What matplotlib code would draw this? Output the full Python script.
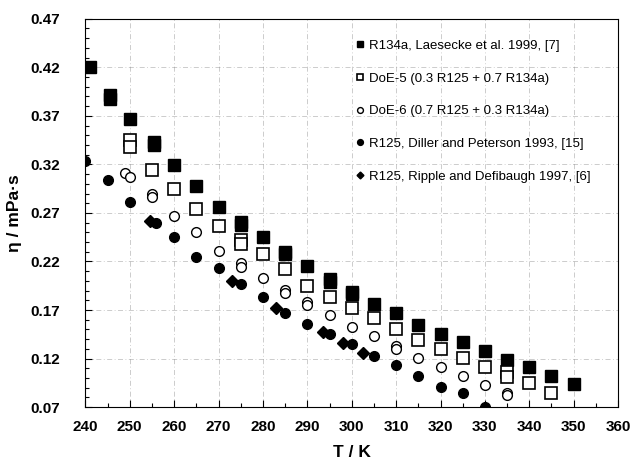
import numpy as np
import matplotlib
matplotlib.use('Agg')
import matplotlib.pyplot as plt
from matplotlib.ticker import MultipleLocator, FixedLocator, FormatStrFormatter

plt.rcParams['font.family'] = ['Liberation Sans', 'DejaVu Sans']

# R134a, Laesecke et al. 1999
t_r134a = [241, 245.5, 245.5, 250, 255.5, 255.5, 260, 265, 270, 275, 275, 280, 285, 285,
           290, 295, 295, 300, 300, 305, 310, 315, 320, 325, 330, 335, 340, 345, 350]
eta_r134a = [0.420, 0.391, 0.387, 0.367, 0.343, 0.340, 0.319, 0.298, 0.276, 0.261, 0.258,
             0.245, 0.230, 0.228, 0.215, 0.202, 0.199, 0.189, 0.186, 0.176, 0.167, 0.155,
             0.145, 0.137, 0.128, 0.119, 0.111, 0.102, 0.094]

# DoE-5 (0.3 R125 + 0.7 R134a)
t_doe5 = [250, 250, 255, 260, 265, 270, 275, 275, 280, 285, 290, 295, 300, 305, 310,
          315, 320, 325, 330, 335, 335, 340, 345]
eta_doe5 = [0.345, 0.338, 0.314, 0.295, 0.274, 0.257, 0.242, 0.238, 0.228, 0.212, 0.195,
            0.183, 0.172, 0.162, 0.150, 0.139, 0.130, 0.121, 0.111, 0.106, 0.101, 0.095, 0.085]

# DoE-6 (0.7 R125 + 0.3 R134a)
t_doe6 = [249, 250, 255, 255, 260, 265, 270, 275, 275, 280, 285, 285, 290, 290, 295, 300,
          305, 310, 310, 315, 320, 325, 330, 335, 335]
eta_doe6 = [0.311, 0.307, 0.290, 0.286, 0.267, 0.250, 0.231, 0.218, 0.214, 0.203, 0.191,
            0.188, 0.178, 0.175, 0.165, 0.153, 0.143, 0.133, 0.130, 0.121, 0.111, 0.102,
            0.093, 0.085, 0.082]

# R125, Diller and Peterson 1993
t_diller = [240, 245, 250, 256, 260, 265, 270, 275, 280, 285, 290, 295, 300, 305, 310,
            315, 320, 325, 330]
eta_diller = [0.324, 0.304, 0.281, 0.260, 0.245, 0.225, 0.213, 0.197, 0.183, 0.167, 0.156,
              0.145, 0.135, 0.123, 0.113, 0.102, 0.091, 0.085, 0.070]

# R125, Ripple and Defibaugh 1997
t_ripple = [254.5, 273, 283, 293.5, 298, 302.5]
eta_ripple = [0.262, 0.200, 0.172, 0.147, 0.136, 0.126]

fig = plt.figure(figsize=(6.32, 4.69), dpi=100)
ax = fig.add_axes([0.135, 0.132, 0.843, 0.828])

ax.plot(t_r134a, eta_r134a, 's', color='black', ms=8, ls='none',
        label='R134a, Laesecke et al. 1999, [7]')
ax.plot(t_doe5, eta_doe5, 's', mfc='white', mec='black', mew=1.2, ms=8, ls='none',
        label='DoE-5 (0.3 R125 + 0.7 R134a)')
ax.plot(t_doe6, eta_doe6, 'o', mfc='white', mec='black', mew=1.0, ms=7, ls='none',
        label='DoE-6 (0.7 R125 + 0.3 R134a)')
ax.plot(t_diller, eta_diller, 'o', color='black', ms=7, ls='none',
        label='R125, Diller and Peterson 1993, [15]')
ax.plot(t_ripple, eta_ripple, 'D', color='black', ms=5.8, ls='none',
        label='R125, Ripple and Defibaugh 1997, [6]')

ax.set_xlim(240, 360)
ax.set_ylim(0.07, 0.47)
ax.xaxis.set_major_locator(MultipleLocator(10))
ax.xaxis.set_minor_locator(MultipleLocator(5))
ax.yaxis.set_major_locator(FixedLocator(np.arange(0.07, 0.4701, 0.05)))
ax.yaxis.set_minor_locator(FixedLocator(np.arange(0.07, 0.4701, 0.01)))
ax.yaxis.set_major_formatter(FormatStrFormatter('%.2f'))
ax.tick_params(which='both', direction='in', top=False, right=False)
ax.tick_params(which='major', length=5, width=0.8, labelsize=11)
ax.tick_params(axis='y', which='major', pad=18)
ax.tick_params(axis='x', which='major', pad=9)
ax.tick_params(which='minor', length=3, width=0.8)
for lab in ax.get_xticklabels() + ax.get_yticklabels():
    lab.set_fontweight('bold')

ax.grid(which='major', color='#888888', linestyle=(0, (6, 3, 1, 3)), linewidth=0.6, alpha=0.5)

ax.set_xlabel('T / K', fontsize=12.5, fontweight='bold', labelpad=8)
ax.set_ylabel('η / mPa·s', fontsize=12.5, fontweight='bold', labelpad=6)

ax.legend(loc='upper left', bbox_to_anchor=(0.49, 0.97), frameon=False, fontsize=9.5,
          markerscale=0.6, handlelength=0.6, handletextpad=0.4, labelspacing=1.55,
          borderpad=0.2)

fig.savefig('out.png', dpi=100, facecolor='white')
